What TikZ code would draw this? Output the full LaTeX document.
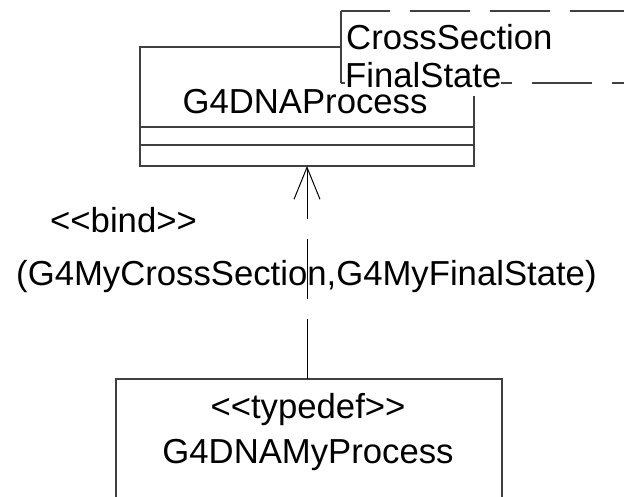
\documentclass[tikz,border=0pt]{standalone}
\usepackage{fontspec}
\setmainfont{Liberation Sans}
\usetikzlibrary{arrows.meta}
\definecolor{boxgray}{HTML}{404040}
\newcommand\fsz{\fontsize{34.7pt}{40pt}\selectfont}
\begin{document}
\begin{tikzpicture}[x=1pt,y=-1pt,
  boxline/.style={draw=boxgray, line width=1.3pt},
  classbox/.style={boxline, inner sep=0pt, outer sep=0pt},
  lbl/.style={inner sep=0pt, font=\fsz},
  dep/.style={draw=black, line width=1pt, dash pattern=on 60pt off 20pt,
    -{Straight Barb[length=32pt,width=26pt,line width=1pt]}},
  tpldash/.style={boxline, dash pattern=on 60pt off 20pt}]
\useasboundingbox (0,0) rectangle (624,496);
\clip (0,0) rectangle (624,496);
% top class box
\node[classbox, minimum width=334pt, minimum height=119pt] (proc) at (307,106.5) {};
\coordinate (s1) at (0,127);
\coordinate (s2) at (0,145);
\draw[boxline] (proc.west |- s1) -- (proc.east |- s1);
\draw[boxline] (proc.west |- s2) -- (proc.east |- s2);
% template parameter box
\node[fill=white, inner sep=0pt, outer sep=0pt, minimum width=299pt, minimum height=72pt] (tpl) at (490.5,47) {};
\draw[boxline] (tpl.north west) -- (tpl.south west);
\draw[tpldash, dash phase=11pt] (tpl.north west) -- (tpl.north east);
\draw[tpldash, dash phase=49pt] (tpl.south west) -- (tpl.south east);
\node[lbl, anchor=base west] (cs) at (346,49) {CrossSection};
\node[lbl, anchor=base west, fill=white, text depth=9pt] (fs) at (345,87) {FinalState};
\node[lbl, anchor=base] (pname) at (305,113) {G4DNAProcess};
% bottom class box
\node[classbox, minimum width=386pt, minimum height=131pt] (myproc) at (309,444.5) {};
\node[lbl, anchor=base] (stereo) at (308,418) {<{}<typedef>{}>};
\node[lbl, anchor=base] (myname) at (308,463) {G4DNAMyProcess};
% binding dependency
\draw[dep] (myproc.north -| proc.south) -- (proc.south);
\node[lbl, anchor=base west] (bind) at (50,232) {<{}<bind>{}>};
\node[lbl, anchor=base west] (args) at (16,285) {(G4MyCrossSection,G4MyFinalState)};
\end{tikzpicture}
\end{document}
